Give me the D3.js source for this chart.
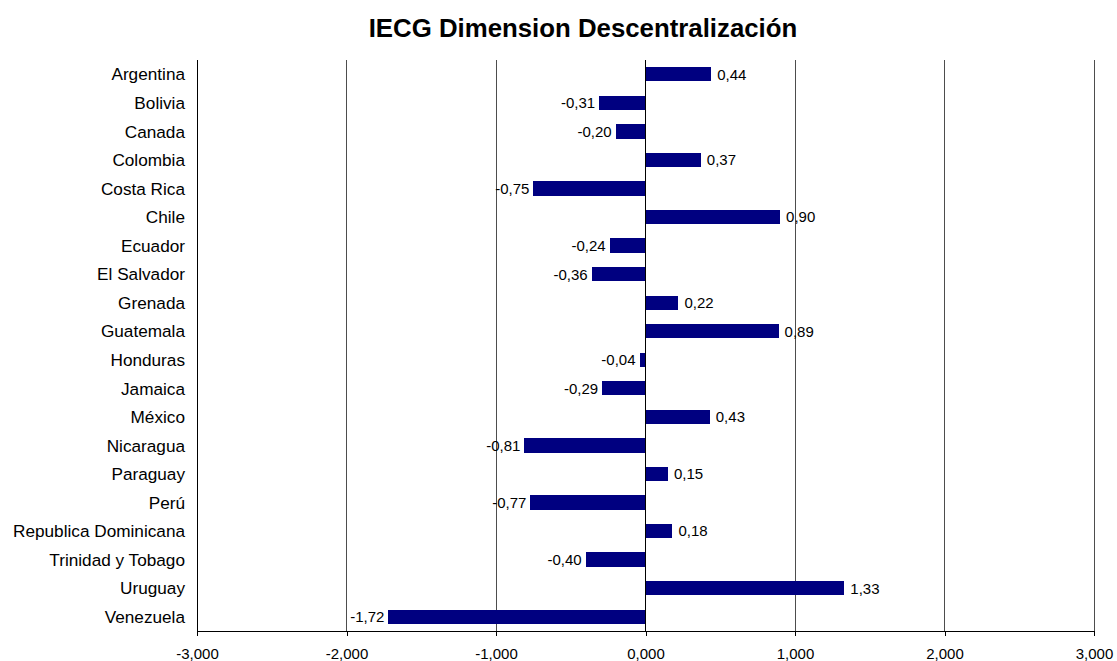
<!DOCTYPE html>
<html><head><meta charset="utf-8">
<script src="https://cdn.jsdelivr.net/npm/d3@7"></script>
<style>body{margin:0;background:#fff;font-family:"Liberation Sans",Arial,sans-serif;}</style>
</head><body>
<svg id="c" width="1117" height="661"></svg>
<script>
const categories = ["Argentina","Bolivia","Canada","Colombia","Costa Rica","Chile","Ecuador","El Salvador","Grenada","Guatemala","Honduras","Jamaica","México","Nicaragua","Paraguay","Perú","Republica Dominicana","Trinidad y Tobago","Uruguay","Venezuela"];
const values = [0.44,-0.31,-0.20,0.37,-0.75,0.90,-0.24,-0.36,0.22,0.89,-0.04,-0.29,0.43,-0.81,0.15,-0.77,0.18,-0.40,1.33,-1.72];
const xTicks = [-3,-2,-1,0,1,2,3];
const title = "IECG Dimension Descentralización";

const svg = d3.select("#c");
const m = {left:197, right:1094, top:60, bottom:631};
const x = d3.scaleLinear().domain([-3,3]).range([m.left, m.right]);
const y = d3.scaleBand().domain(categories).range([m.top, m.bottom]).paddingInner(0.5).paddingOuter(0.25);
const fmt = v => d3.format(".3f")(v).replace("−","-").replace(".",",");
const fmt2 = v => d3.format(".2f")(v).replace("−","-").replace(".",",");

// gridlines
svg.append("g").selectAll("line").data(xTicks.filter(t=>t!==-3 && t!==0)).join("line")
  .attr("x1",d=>x(d)).attr("x2",d=>x(d)).attr("y1",m.top).attr("y2",m.bottom)
  .attr("stroke","#4d4d4d").attr("stroke-width",1).attr("shape-rendering","crispEdges");

// bars
svg.append("g").selectAll("rect").data(values).join("rect")
  .attr("x",d=>x(Math.min(0,d))).attr("width",d=>Math.abs(x(d)-x(0)))
  .attr("y",(d,i)=>y(categories[i])).attr("height",y.bandwidth())
  .attr("fill","#000080").attr("shape-rendering","crispEdges");

// zero line
svg.append("line").attr("x1",x(0)).attr("x2",x(0)).attr("y1",m.top).attr("y2",m.bottom)
  .attr("stroke","#000").attr("shape-rendering","crispEdges");

// left axis line
svg.append("line").attr("x1",m.left).attr("x2",m.left).attr("y1",m.top).attr("y2",m.bottom)
  .attr("stroke","#000").attr("shape-rendering","crispEdges");

// bottom axis
const xa = d3.axisBottom(x).tickValues(xTicks).tickFormat(fmt).tickSize(5).tickPadding(12);
const gx = svg.append("g").attr("transform",`translate(0,${m.bottom})`).call(xa);
gx.select(".domain").attr("stroke","#000").attr("shape-rendering","crispEdges");
gx.selectAll(".tick line").attr("stroke","#000").attr("shape-rendering","crispEdges");
gx.selectAll("text").attr("font-size",15).attr("font-family","Liberation Sans, Arial, sans-serif").attr("fill","#000");

// category labels
svg.append("g").selectAll("text").data(categories).join("text")
  .attr("x",m.left-12).attr("y",d=>y(d)+y.bandwidth()/2).attr("dy","0.36em")
  .attr("text-anchor","end").attr("font-size",17.2).attr("fill","#000").text(d=>d);

// value labels
svg.append("g").selectAll("text").data(values).join("text")
  .attr("x",d=>d>=0 ? x(d)+6 : x(d)-4)
  .attr("y",(d,i)=>y(categories[i])+y.bandwidth()/2).attr("dy","0.36em")
  .attr("text-anchor",d=>d>=0?"start":"end").attr("font-size",15).attr("fill","#000")
  .text(d=>fmt2(d));

// title
svg.append("text").attr("x",583).attr("y",37).attr("text-anchor","middle")
  .attr("font-size",25.8).attr("font-weight","bold").attr("fill","#000").text(title);
</script>
</body></html>
